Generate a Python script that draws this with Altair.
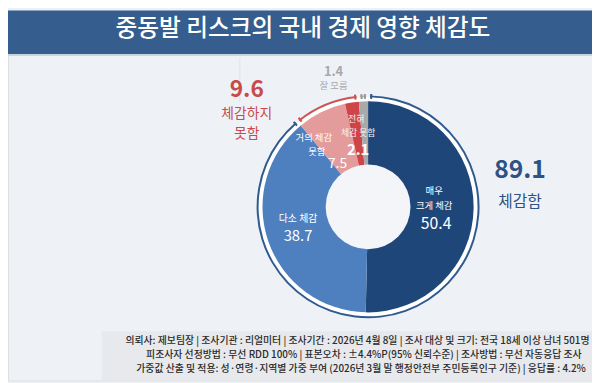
import math
import altair as alt
import pandas as pd

# ---------------- data ----------------
categories = ["매우 크게 체감", "다소 체감", "거의 체감 못함", "전혀 체감 못함", "잘 모름"]
values = [50.4, 38.7, 7.5, 2.1, 1.4]
seg_colors = ["#1f4679", "#4e80bf", "#e49b9c", "#cf4446", "#a9a9a9"]

groups = ["체감함", "체감하지 못함", "잘 모름"]
group_values = [89.1, 9.6, 1.4]
group_colors = ["#2f5a8f", "#d05252", "#b3b3b3"]

title_text = "중동발 리스크의 국내 경제 영향 체감도"
footer_lines = [
    "의뢰사: 제보팀장 | 조사기관 : 리얼미터 |  조사기간 : 2026년 4월 8일 | 조사 대상 및 크기: 전국 18세 이상 남녀 501명",
    "피조사자 선정방법 : 무선 RDD 100% | 표본오차 : ±4.4%P(95% 신뢰수준) | 조사방법 : 무선 자동응답 조사",
    "가중값 산출 및 적용: 성·연령·지역별 가중 부여 (2026년 3월 말 행정안전부 주민등록인구 기준) | 응답률 : 4.2%",
]

# ---------------- layout ----------------
W, H = 592, 375
OFF = 8
CX, CY = 373 - OFF, 207 - OFF
R_OUT, R_HOLE = 107, 43
R_GAP, R_RING = 111, 113
TOTAL = sum(values)
FONT = "Noto Sans CJK KR"

xs = alt.Scale(domain=[OFF, W + OFF], range=[0, W])
ys = alt.Scale(domain=[OFF, H + OFF], range=[0, H])
ts = alt.Scale(domain=[0, TOTAL], range=[0, 2 * math.pi])

# segments
cum = 0
seg_rows = []
for c, v, col in zip(categories, values, seg_colors):
    seg_rows.append({"cat": c, "start": cum, "end": cum + v, "color": col})
    cum += v
seg_df = pd.DataFrame(seg_rows)

cum = 0
ring_rows = []
mark_rows = []
for g, v, col in zip(groups, group_values, group_colors):
    ring_rows.append({"grp": g, "start": cum, "end": cum + v, "color": col})
    mcol = col if v > 3 else "#9a9a9a"
    mark_rows.append({"start": cum + 0.3, "end": cum + 0.6, "color": mcol})
    mark_rows.append({"start": cum + v - 0.6, "end": cum + v - 0.3, "color": mcol})
    cum += v
ring_df = pd.DataFrame(ring_rows)
mark_df = pd.DataFrame(mark_rows)
full_df = pd.DataFrame([{"start": 0, "end": TOTAL}])
one = pd.DataFrame([{"k": 1}])


def arc_layer(df, r2, r, color=None, **kw):
    enc = dict(
        theta=alt.Theta("start:Q", scale=ts),
        theta2="end:Q",
        x=alt.value(CX),
        y=alt.value(CY),
    )
    if color is None:
        enc["color"] = alt.Color("color:N", scale=None, legend=None)
        m = alt.Chart(df).mark_arc(radius=r, radius2=r2, **kw)
    else:
        m = alt.Chart(df).mark_arc(radius=r, radius2=r2, color=color, **kw)
    return m.encode(**enc)


# background rectangles
title_bar = alt.Chart(one).mark_rect(color="#355d8d").encode(
    x=alt.value(0), x2=alt.value(W), y=alt.value(0), y2=alt.value(52 - OFF)
)
title_line = alt.Chart(one).mark_rect(color="#c9d3e0").encode(
    x=alt.value(0), x2=alt.value(W), y=alt.value(52 - OFF), y2=alt.value(54 - OFF)
)
footer_box = alt.Chart(one).mark_rect(color="#e8e9ec").encode(
    x=alt.value(103 - OFF), x2=alt.value(W), y=alt.value(333 - OFF), y2=alt.value(H)
)
vline = alt.Chart(one).mark_rule(color="#dde2ea", strokeWidth=1).encode(
    x=alt.value(243 - OFF), y=alt.value(56 - OFF), y2=alt.value(100 - OFF)
)

white_disc = arc_layer(full_df, 0, R_GAP, color="#ffffff")
ring = arc_layer(ring_df, R_GAP, R_RING, padAngle=0.025)
markers = arc_layer(mark_df, R_GAP - 1.5, R_RING + 1.5)
donut = arc_layer(seg_df, 0, R_OUT)
hole = arc_layer(full_df, 0, R_HOLE, color="#f3f5f9")

# text labels: text, x, y, size, color, weight
labels = [
    ("89.1", 527, 170, 25, "#2e5285", "bold"),
    ("체감함", 527, 202, 16, "#2e5285", "normal"),
    ("9.6", 250, 89, 23, "#c84a4a", "bold"),
    ("체감하지", 250, 113, 14, "#c84a4a", "normal"),
    ("못함", 250, 133, 14, "#c84a4a", "normal"),
    ("1.4", 338, 70, 13, "#a8a8a8", "bold"),
    ("잘 모름", 338, 85, 9.5, "#a8a8a8", "normal"),
    ("매우", 440, 191, 9.5, "#ffffff", "normal"),
    ("크게 체감", 440, 206, 9.5, "#ffffff", "normal"),
    ("50.4", 442, 224, 16, "#ffffff", "normal"),
    ("다소 체감", 302, 219, 10, "#ffffff", "normal"),
    ("38.7", 302, 237, 15, "#ffffff", "normal"),
    ("거의 체감", 318, 137, 9.5, "#ffffff", "normal"),
    ("못함", 321, 151, 9.5, "#ffffff", "normal"),
    ("7.5", 342, 164, 14, "#ffffff", "normal"),
    ("전혀", 361, 118, 9, "#f4f4f4", "normal"),
    ("체감 못함", 363, 132, 9, "#f4f4f4", "normal"),
    ("2.1", 363, 149, 15, "#ffffff", "bold"),
]
lab_df = pd.DataFrame(labels, columns=["text", "x", "y", "size", "color", "weight"])


def text_layer(df, weight, align="center"):
    return (
        alt.Chart(df[df["weight"] == weight])
        .mark_text(font=FONT, fontWeight=weight, align=align, baseline="middle")
        .encode(
            x=alt.X("x:Q", scale=xs, axis=None),
            y=alt.Y("y:Q", scale=ys, axis=None),
            text="text:N",
            size=alt.Size("size:Q", scale=None, legend=None),
            color=alt.Color("color:N", scale=None, legend=None),
        )
    )


title_df = pd.DataFrame([{"text": title_text, "x": 497, "y": 27}])
title = (
    alt.Chart(title_df)
    .mark_text(font=FONT, fontSize=24, fontWeight=500, color="#ffffff", align="right", baseline="middle")
    .encode(x=alt.X("x:Q", scale=xs, axis=None), y=alt.Y("y:Q", scale=ys, axis=None), text="text:N")
)

foot_df = pd.DataFrame(
    {"text": footer_lines, "x": [127, 148, 138], "y": [343, 357, 371]}
)
footer = (
    alt.Chart(foot_df)
    .mark_text(font=FONT, fontSize=10, fontWeight=500, color="#2a2a2a", align="left", baseline="middle")
    .encode(x=alt.X("x:Q", scale=xs, axis=None), y=alt.Y("y:Q", scale=ys, axis=None), text="text:N")
)

chart = (
    alt.layer(
        title_bar, title_line, footer_box, vline,
        white_disc, ring, markers, donut, hole,
        text_layer(lab_df, "normal"), text_layer(lab_df, "bold"),
        title, footer,
    )
    .properties(width=W, height=H, autosize=alt.AutoSizeParams(type="none"), padding=0)
    .configure_view(stroke=None)
    .configure(background="#eef2f7")
)

chart.save("out.html", embed_options={"renderer": "svg", "actions": False})
